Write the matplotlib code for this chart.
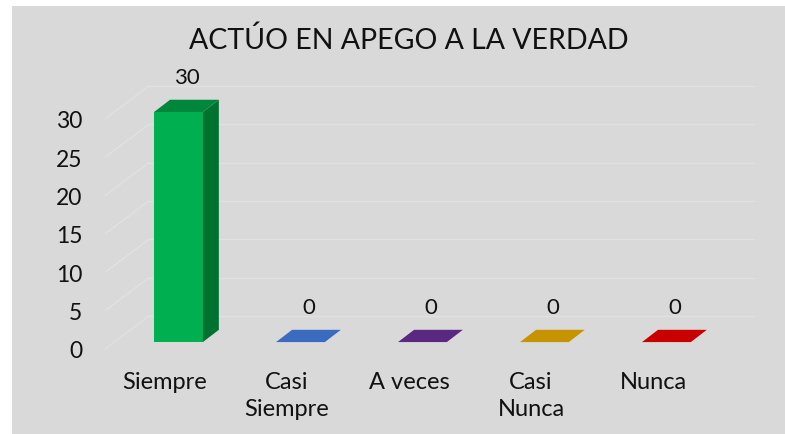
import numpy as np
import matplotlib.pyplot as plt
from matplotlib.patches import Polygon, Rectangle

# datos
categorias = ["Siempre", "Casi\nSiempre", "A veces", "Casi\nNunca", "Nunca"]
valores = [30, 0, 0, 0, 0]
col_frente = ["#00B050", "#4472C4", "#7030A0", "#FFC000", "#FF0000"]
col_tapa = ["#00873C", "#3A6BBE", "#5A2781", "#C59400", "#C80000"]
col_lado = ["#007230", "#2F5597", "#4B1F6E", "#A07800", "#A00000"]
marcas_y = [0, 5, 10, 15, 20, 25, 30]
titulo = "ACTÚO EN APEGO A LA VERDAD"

plt.rcParams['font.family'] = ['Lato', 'DejaVu Sans']
texto = "#111111"

fig = plt.figure(figsize=(7.85, 4.35), dpi=100)
fig.patch.set_facecolor("white")
fondo = Rectangle((12/785, 0), 1, 1 - 7/435, transform=fig.transFigure,
                  facecolor="#D9D9D9", edgecolor="none", zorder=-10)
fig.patches.append(fondo)

ax = fig.add_axes([0.1338, 0.1602, 0.828, 0.6699])
ax.set_zorder(1)
ax.set_xlim(-0.492, 4.836)
ax.set_ylim(-2, 36)
ax.patch.set_alpha(0)
for s in ax.spines.values():
    s.set_visible(False)

# perspectiva (unidades de datos)
w = 0.40            # ancho de barra
gx, gy = 0.11, 0.9  # separacion desde el borde frontal
dx, dy = 0.131, 1.6  # profundidad de barra
wdx, wdy = 0.36, 4.3  # profundidad de las paredes
x_izq = -0.492
grid_c = "#E1E1E1"

for v in marcas_y:
    ax.plot([x_izq, x_izq + wdx], [v, v + wdy], color=grid_c, lw=1, zorder=1)
    ax.plot([x_izq + wdx, 4.836], [v + wdy, v + wdy], color=grid_c, lw=1, zorder=1)

for i, v in enumerate(valores):
    x0 = i + gx - w / 2
    y0 = gy
    top = gy + v
    if v > 0:
        ax.add_patch(Polygon([(x0, y0), (x0 + w, y0), (x0 + w, top), (x0, top)],
                             closed=True, facecolor=col_frente[i], edgecolor="none", zorder=3))
        ax.add_patch(Polygon([(x0 + w, y0), (x0 + w + dx, y0 + dy), (x0 + w + dx, top + dy), (x0 + w, top)],
                             closed=True, facecolor=col_lado[i], edgecolor="none", zorder=3))
    ax.add_patch(Polygon([(x0, top), (x0 + w, top), (x0 + w + dx, top + dy), (x0 + dx, top + dy)],
                         closed=True, facecolor=col_tapa[i], edgecolor="none", zorder=3))
    ax.annotate(str(v), (x0 + (w + dx) / 2, top + dy), xytext=(0, 9), textcoords="offset points",
                ha="center", va="bottom", fontsize=16, color=texto)

ax.set_yticks(marcas_y)
ax.set_yticklabels([str(v) for v in marcas_y], fontsize=16.5, color=texto)
ax.set_xticks(range(len(categorias)))
ax.set_xticklabels(categorias, fontsize=17, color=texto, linespacing=1.35)
ax.tick_params(axis="y", length=0, pad=16.5)
ax.tick_params(axis="x", length=0, pad=5)

fig.text(409/785, 1 - 40/435, titulo, ha="center", va="center", fontsize=20.5, color=texto)

fig.savefig("out.png", dpi=100)
